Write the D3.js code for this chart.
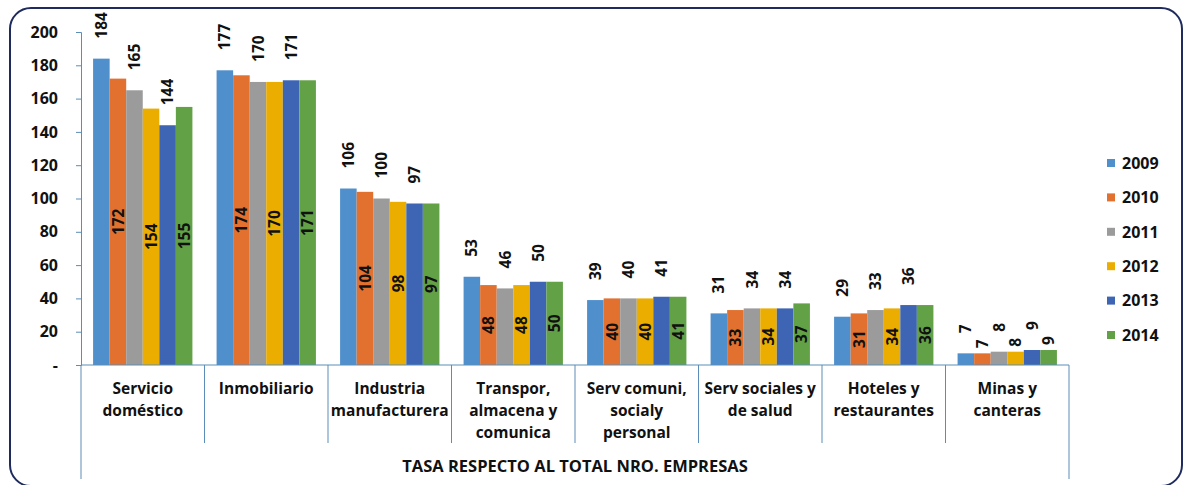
<!DOCTYPE html>
<html>
<head>
<meta charset="utf-8">
<script src="https://cdn.jsdelivr.net/npm/d3@7"></script>
<style>
  body { margin: 0; background: #fff; }
  text { font-family: "Open Sans", "Noto Sans", sans-serif; fill: #111; }
</style>
</head>
<body>
<script>
// categories and series
let categories = [
    ["Servicio", "doméstico"],
    ["Inmobiliario"],
    ["Industria", "manufacturera"],
    ["Transpor,", "almacena y", "comunica"],
    ["Serv comuni,", "socialy", "personal"],
    ["Serv sociales y", "de salud"],
    ["Hoteles y", "restaurantes"],
    ["Minas y", "canteras"]
];
let years = ["2009", "2010", "2011", "2012", "2013", "2014"];
let v2009 = [184, 177, 106, 53, 39, 31, 29, 7];
let v2010 = [172, 174, 104, 48, 40, 33, 31, 7];
let v2011 = [165, 170, 100, 46, 40, 34, 33, 8];
let v2012 = [154, 170, 98, 48, 40, 34, 34, 8];
let v2013 = [144, 171, 97, 50, 41, 34, 36, 9];
let v2014 = [155, 171, 97, 50, 41, 37, 36, 9];
let yTicks = [0, 20, 40, 60, 80, 100, 120, 140, 160, 180, 200];
let axisTitle = "TASA RESPECTO AL TOTAL NRO. EMPRESAS";

let colors = ["#4f8fcc", "#e2702f", "#9b9b9b", "#ebad00", "#3d65b3", "#62a146"];
let series = [v2009, v2010, v2011, v2012, v2013, v2014];

let W = 1185, H = 485;
let plotLeft = 81, plotRight = 1069, plotTop = 32, plotBottom = 365;

let svg = d3.select("body")
    .append("svg")
        .attr("width", W)
        .attr("height", H);

// rounded frame
svg.append("rect")
    .attr("x", 10).attr("y", 8)
    .attr("width", 1172).attr("height", 478)
    .attr("rx", 21)
    .attr("fill", "#fff")
    .attr("stroke", "#1e2b5c")
    .attr("stroke-width", 2);

let keys = categories.map(function(d, i) { return i; });

let x0 = d3.scaleBand()
    .domain(keys)
    .range([plotLeft, plotRight])
    .padding(0);

let x1 = d3.scaleBand()
    .domain(years)
    .range([0, x0.bandwidth()])
    .paddingInner(0)
    .paddingOuter(0.73);

let y = d3.scaleLinear()
    .domain([0, 200])
    .range([plotBottom, plotTop]);

// y axis
let yAxis = svg.append("g")
    .attr("transform", "translate(" + plotLeft + ",0)")
    .call(d3.axisLeft(y)
        .tickValues(yTicks)
        .tickSize(5)
        .tickPadding(18)
        .tickFormat(function(d) { return d === 0 ? "-" : d; }));
yAxis.select(".domain").attr("stroke", "#5b8db8");
yAxis.selectAll(".tick line").attr("stroke", "#5b8db8");
yAxis.selectAll(".tick text")
    .style("font-size", "16px")
    .style("font-weight", "bold")
    .attr("fill", "#111");

// bars
let groups = svg.selectAll("g.cat")
    .data(keys)
    .enter()
    .append("g")
        .attr("class", "cat")
        .attr("transform", function(d) { return "translate(" + x0(d) + ",0)"; });

groups.selectAll("rect")
    .data(function(c) { return years.map(function(yr, s) { return {s: s, yr: yr, v: series[s][c]}; }); })
    .enter()
    .append("rect")
        .attr("x", function(d) { return x1(d.yr); })
        .attr("y", function(d) { return y(d.v); })
        .attr("width", x1.bandwidth())
        .attr("height", function(d) { return plotBottom - y(d.v); })
        .attr("fill", function(d) { return colors[d.s]; });

// data labels: odd series above the bar, even series inside (above if the bar is too short)
groups.selectAll("text.lbl")
    .data(function(c) { return years.map(function(yr, s) { return {s: s, yr: yr, v: series[s][c]}; }); })
    .enter()
    .append("text")
        .attr("class", "lbl")
        .attr("transform", function(d) {
            let cx = x1(d.yr) + x1.bandwidth() / 2;
            let h = plotBottom - y(d.v);
            let py;
            if (d.s % 2 === 0) py = y(d.v) - 20;
            else if (h < 40) py = y(d.v) - 5;
            else py = (y(d.v) + plotBottom) / 2;
            return "translate(" + cx + "," + py + ") rotate(-90)";
        })
        .attr("text-anchor", function(d) {
            let h = plotBottom - y(d.v);
            return (d.s % 2 === 0 || h < 40) ? "start" : "middle";
        })
        .attr("dy", "0.36em")
        .style("font-size", "15.5px")
        .style("font-weight", "bold")
        .text(function(d) { return d.v; });

// category axis
let axisColor = "#5b8db8";
svg.append("line")
    .attr("x1", plotLeft).attr("x2", plotRight)
    .attr("y1", plotBottom).attr("y2", plotBottom)
    .attr("stroke", axisColor).attr("stroke-width", 1.2);

svg.selectAll("line.sep")
    .data(keys.slice(1))
    .enter()
    .append("line")
        .attr("class", "sep")
        .attr("x1", function(d) { return x0(d); })
        .attr("x2", function(d) { return x0(d); })
        .attr("y1", plotBottom).attr("y2", 443)
        .attr("stroke", axisColor);

[plotLeft, plotRight].forEach(function(px) {
    svg.append("line")
        .attr("x1", px).attr("x2", px)
        .attr("y1", plotBottom).attr("y2", 479)
        .attr("stroke", axisColor);
});

let catText = svg.selectAll("text.catlbl")
    .data(keys)
    .enter()
    .append("text")
        .attr("class", "catlbl")
        .attr("text-anchor", "middle")
        .style("font-size", "15.5px")
        .style("font-weight", "bold");

catText.selectAll("tspan")
    .data(function(d) { return categories[d].map(function(t) { return {c: d, t: t}; }); })
    .enter()
    .append("tspan")
        .attr("x", function(d) { return x0(d.c) + x0.bandwidth() / 2; })
        .attr("y", function(d, i) { return 394 + i * 22; })
        .text(function(d) { return d.t; });

svg.append("text")
    .attr("x", (plotLeft + plotRight) / 2)
    .attr("y", 472)
    .attr("text-anchor", "middle")
    .style("font-size", "16.5px")
    .style("font-weight", "bold")
    .text(axisTitle);

// legend
let legend = svg.selectAll("g.leg")
    .data(years)
    .enter()
    .append("g")
        .attr("class", "leg")
        .attr("transform", function(d, i) { return "translate(1107," + (163 + i * 34.4) + ")"; });

legend.append("rect")
    .attr("x", 0).attr("y", -4)
    .attr("width", 8).attr("height", 8)
    .attr("fill", function(d, i) { return colors[i]; });

legend.append("text")
    .attr("x", 15)
    .attr("dy", "0.36em")
    .style("font-size", "16px")
    .style("font-weight", "bold")
    .text(function(d) { return d; });
</script>
</body>
</html>
